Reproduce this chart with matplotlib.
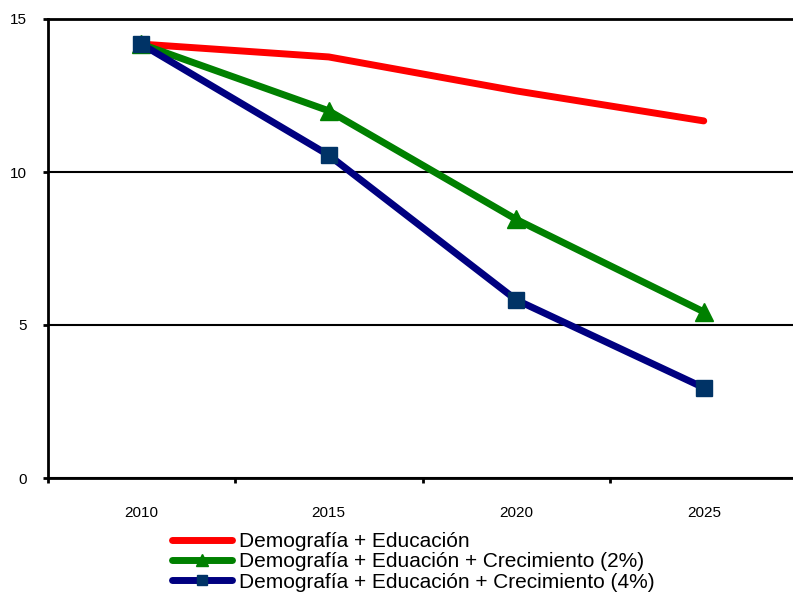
import matplotlib
matplotlib.use("Agg")
import matplotlib.pyplot as plt
import numpy as np

plt.rcParams['font.family'] = ['Liberation Sans', 'DejaVu Sans']

# data
years = ["2010", "2015", "2020", "2025"]
demo_edu = [14.18, 13.76, 12.65, 11.67]
demo_edu_2 = [14.18, 12.0, 8.45, 5.43]
demo_edu_4 = [14.18, 10.55, 5.82, 2.95]
labels = ["Demografía + Educación",
          "Demografía + Eduación + Crecimiento (2%)",
          "Demografía + Educación + Crecimiento (4%)"]

fig = plt.figure(figsize=(7.93, 5.94), dpi=100)
ax = fig.add_axes([47.5 / 793, 116 / 594, 750 / 793, 459 / 594])

x = np.arange(len(years))

ax.plot(x, demo_edu, color="#FF0000", lw=5, solid_capstyle="round",
        solid_joinstyle="round", label=labels[0], zorder=3)
ax.plot(x, demo_edu_2, color="#008000", lw=5, solid_capstyle="round",
        solid_joinstyle="round", marker="^", markersize=13,
        markerfacecolor="#008000", markeredgecolor="#008000",
        label=labels[1], zorder=4)
ax.plot(x, demo_edu_4, color="#000080", lw=5, solid_capstyle="round",
        solid_joinstyle="round", marker="s", markersize=12,
        markerfacecolor="#003366", markeredgecolor="#003366",
        label=labels[2], zorder=5)

ax.set_xlim(-0.5, 3.5)
ax.set_ylim(0, 15)

# Excel style: ticks between categories, labels at categories
ax.set_xticks(np.arange(-0.5, 4.0, 1.0))
ax.set_xticklabels([])
ax.set_xticks(x, minor=True)
ax.set_xticklabels(years, minor=True, fontsize=11)
ax.tick_params(axis="x", which="major", length=3.6, width=2, direction="out")
ax.tick_params(axis="x", which="minor", length=0, pad=20)

ax.set_yticks([0, 5, 10, 15])
ax.tick_params(axis="y", length=3.6, width=2, direction="out", pad=11.5, labelsize=11)

ax.grid(axis="y", color="black", lw=1.5)
ax.set_axisbelow(True)
ax.spines["right"].set_visible(False)
ax.spines["left"].set_linewidth(2)
ax.spines["bottom"].set_linewidth(2)
ax.spines["top"].set_linewidth(2)

fig.legend(loc="upper left", bbox_to_anchor=(172 / 793, 1 - 532 / 594),
           frameon=False, fontsize=15, handlelength=2.9, handletextpad=0.3,
           labelspacing=0.06, markerscale=0.65, borderpad=0, borderaxespad=0)

fig.savefig("out.png", dpi=100)
